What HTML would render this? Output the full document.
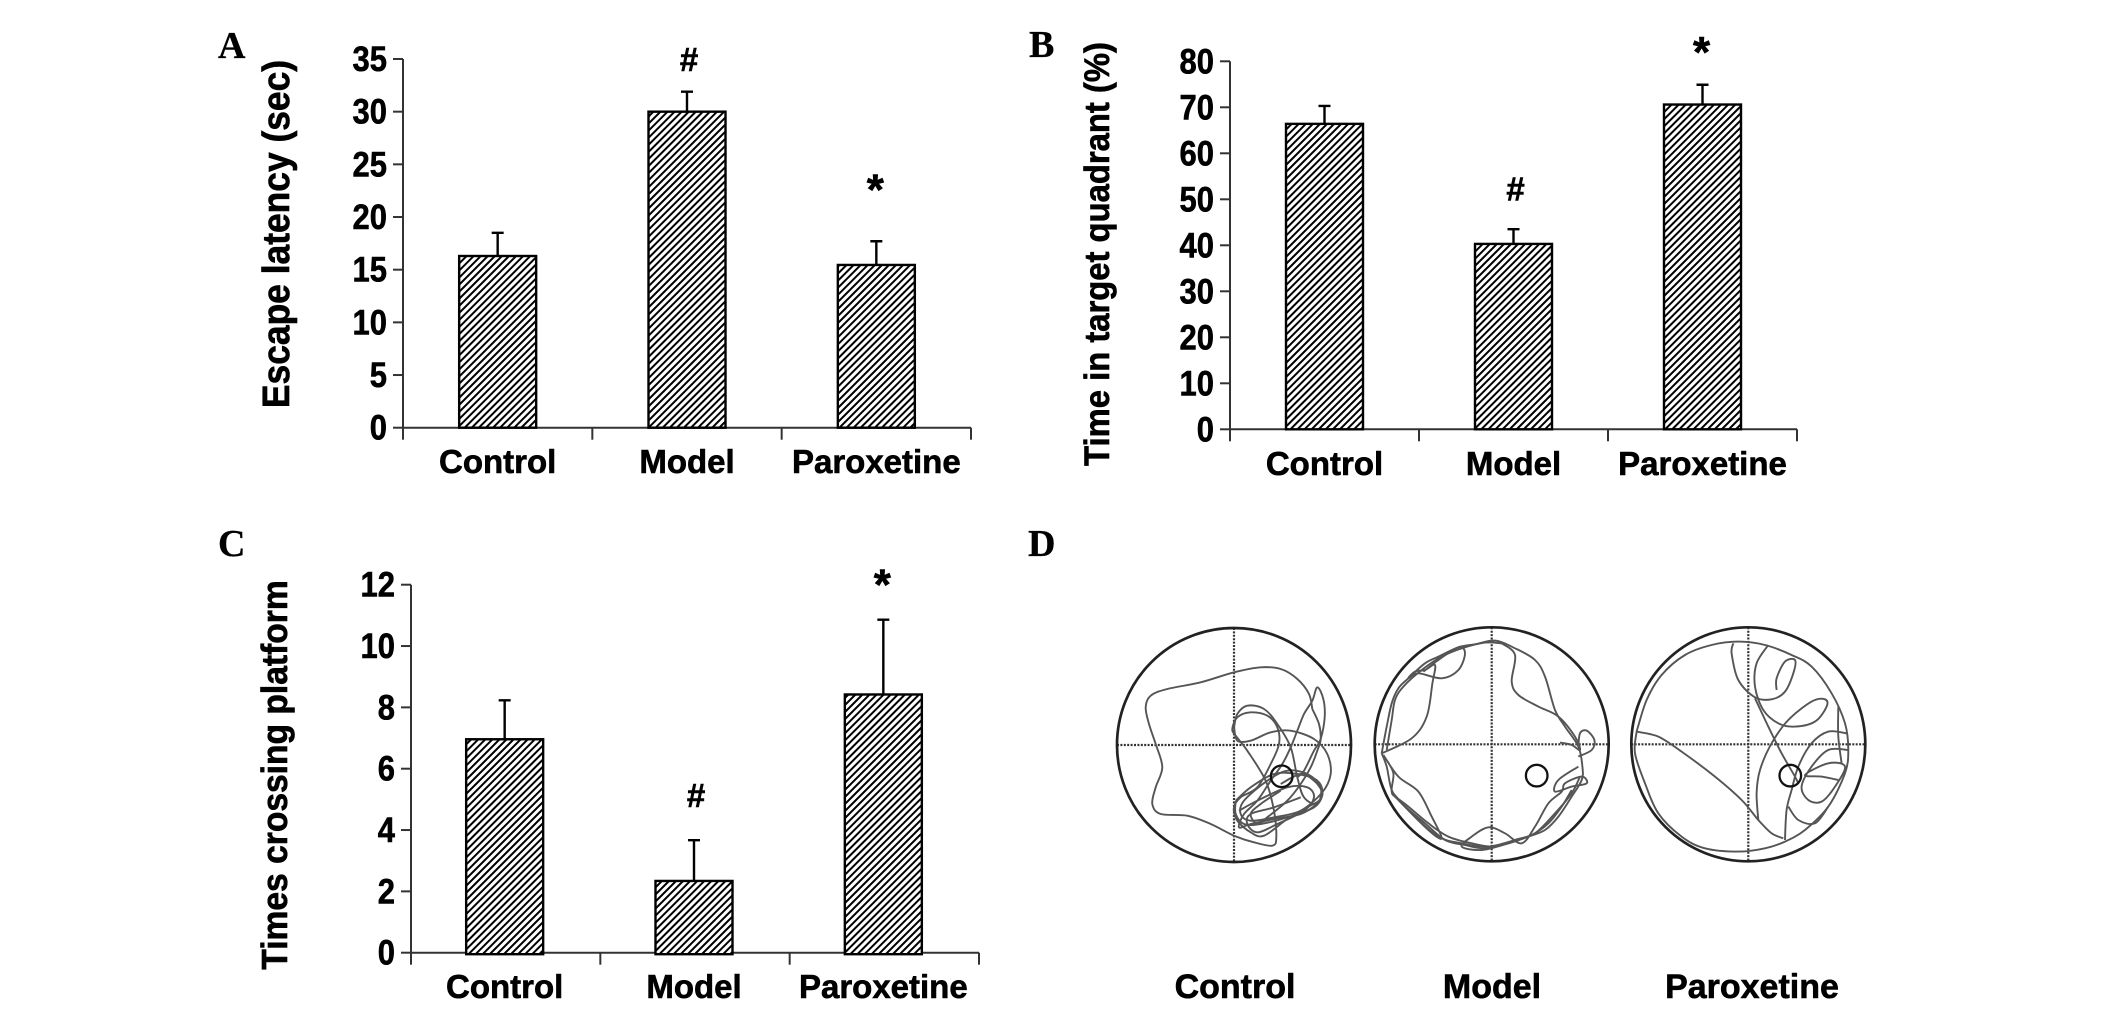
<!DOCTYPE html>
<html lang="en">
<head>
<meta charset="utf-8">
<title>Behavioural results: escape latency, target quadrant time, platform crossings and swim paths</title>
<style>
html,body{margin:0;padding:0;background:#fff;width:2126px;height:1009px;overflow:hidden}
svg{display:block}
text{font-family:"Liberation Sans",Arial,sans-serif;font-weight:bold;fill:#000;stroke:#000;stroke-width:.6px}
.letter{font-family:"Liberation Serif","Times New Roman",serif;font-size:38px;stroke-width:.3px}
</style>
</head>
<body>
<svg id="figure" xmlns="http://www.w3.org/2000/svg" width="2126" height="1009" viewBox="0 0 2126 1009">
<defs>
<pattern id="hatch" width="5" height="5" patternUnits="userSpaceOnUse" patternTransform="rotate(45)">
<rect width="5" height="5" fill="#fff"/>
<rect width="2" height="5" fill="#000"/>
</pattern>
</defs>
<text class="letter" x="218" y="58">A</text>
<text class="letter" x="1029" y="57">B</text>
<text class="letter" x="218" y="556">C</text>
<text class="letter" x="1028" y="556">D</text>
</svg>
<script>
// Shared categories
const categories = ['Control', 'Model', 'Paroxetine'];

// Panel A
const escapeTicks = [0, 5, 10, 15, 20, 25, 30, 35];
const escapeValues = [16.3, 30.0, 15.45];
const escapeErrorTops = [18.5, 31.9, 17.7];
const escapeMarks = ['', '#', '*'];
const escapeMarkLevels = [0, 35.0, 23.2];

// Panel B
const quadrantTicks = [0, 10, 20, 30, 40, 50, 60, 70, 80];
const quadrantValues = [66.4, 40.3, 70.6];
const quadrantErrorTops = [70.3, 43.5, 74.9];
const quadrantMarks = ['', '#', '*'];
const quadrantMarkLevels = [0, 52.3, 83.3];

// Panel C
const crossingTicks = [0, 2, 4, 6, 8, 10, 12];
const crossingValues = [6.96, 2.34, 8.42];
const crossingErrorTops = [8.23, 3.67, 10.86];
const crossingMarks = ['', '#', '*'];
const crossingMarkLevels = [0, 5.14, 12.2];

// Panel D: swim paths, read in pool units (0-840 square around each pool)
const controlPath = [
 [635,295,625,250,590,205,540,175,480,170,400,185,300,215,200,235,150,255,135,290,145,340,165,400,185,470,165,530,155,580,180,610,260,615,330,640,400,675,460,695,515,705,527,680,520,600,495,510,440,420,405,375,395,355,410,320,450,305,500,315,530,350,535,400,510,460,470,530,420,560,400,590,410,630,450,665,490,675,560,625,620,590,655,570,665,545,640,510,600,490,540,520],
 [400,350,410,390,450,390,510,365,570,360,640,385,680,430,690,490,665,545,600,600,520,620,450,630,420,610,430,570,500,510,560,480,620,490,660,530,650,580,610,560,590,500,570,410,530,340,490,295,440,285,410,310,400,350],
 [590,500,610,480,640,420,660,385,672,320,668,265,650,230,635,270,610,310,590,360,570,410,545,460,510,510,470,570,430,610,415,650,450,640,520,625,600,610,650,580],
 [635,295,655,340,660,385,650,420,630,470,600,520,560,570,500,620,470,640,450,610,480,580,540,540],
 [405,570,450,530,520,490,590,490,650,510,665,550,640,590,560,620,480,640,430,640,405,610,405,570],
 [415,600,470,570,560,530,620,530,640,560,610,600,530,640,470,665,440,640,450,610,520,590,600,560]
];
const modelPath = [
 [70,430,85,350,100,280,120,235,150,205,200,160,240,140,300,112,350,103,410,92,470,115,530,150,560,200,590,300,620,350,660,410,672,470,670,510,640,560,600,620,560,660,510,680,450,700,380,715,320,705,260,690,200,640,130,580,100,540,85,470,70,430],
 [70,430,160,385,205,320,222,220,230,165,200,180,170,185,150,205,180,190,250,205,300,180,320,130,300,112,240,150,195,185],
 [430,100,470,135,460,215,480,255,540,290,600,320,650,380,665,420,640,405,605,398],
 [660,440,700,420,708,390,685,362,665,370,660,410],
 [660,470,600,510,590,545,640,530,685,520,670,500,620,520,610,545,570,580,530,650,490,700,440,670,390,652,340,680,310,710,370,720,450,700,510,680],
 [75,435,120,500,180,545,220,620,250,685,210,660,120,570,100,545,105,490,85,450],
 [640,540,610,590,570,640,520,675,470,690,410,710,340,700,270,680,210,640,150,590,110,560],
 [85,420,100,330,110,270,135,230,190,180,250,140,310,115,380,98,430,100],
 [100,545,160,610,240,680,310,700,390,710,470,690,530,670,590,610,640,550,665,500]
];
const paroxetinePath = [
 [65,365,60,430,90,520,130,610,200,680,270,715,370,725,450,715,510,695,570,660,640,590,690,490,700,420,690,340,650,250,590,170,530,135,450,105,370,95,290,105,210,135,140,195,95,270,65,365],
 [65,365,130,380,200,425,300,500,380,570,430,630,470,670,505,685],
 [355,100,350,130,370,210,420,262,470,268,510,245,535,190,540,150,510,155,485,205,485,240],
 [460,105,425,160,420,230,445,300,490,340,540,350,600,335,635,290,630,268,590,275,520,330,470,400,435,480,425,550,430,630],
 [420,265,460,350,500,430,540,500,550,520],
 [695,370,640,365,590,400,550,470,530,540,515,600,510,690],
 [520,590,550,630,600,640,640,590],
 [700,420,640,420,590,470,560,530,580,570,620,575,660,530,690,470,640,460,570,495,620,500,670,510],
 [670,290,670,380,680,460]
];
const pools = [
 {name:'control', label:'Control', cx:1234, cy:745, labelX:1235, platform:[543,497], paths:controlPath},
 {name:'model', label:'Model', cx:1491.7, cy:744.3, labelX:1492, platform:[535,497], paths:modelPath},
 {name:'paroxetine', label:'Paroxetine', cx:1748.3, cy:744.3, labelX:1752, platform:[526,497], paths:paroxetinePath}
];

const NS = 'http://www.w3.org/2000/svg';
const figure = document.getElementById('figure');

function add(parent, tag, attrs, content) {
  const el = document.createElementNS(NS, tag);
  for (const k in attrs) el.setAttribute(k, attrs[k]);
  if (content !== undefined) el.textContent = content;
  parent.appendChild(el);
  return el;
}

function drawChart(cfg) {
  const g = add(figure, 'g', {});
  
  
  const maxTick = cfg.ticks[cfg.ticks.length - 1];
  const yScale = v => cfg.y0 - (v / maxTick) * (cfg.y0 - cfg.yTop);
  const band = (cfg.x1 - cfg.x0) / categories.length;
  const xScale = i => cfg.x0 + band * (i + 0.5) + cfg.barShift;

  const axis = add(g, 'path', {fill:'none', stroke:'#333', 'stroke-width':2,
    d:'M' + cfg.x0 + ' ' + yScale(maxTick) + 'V' + cfg.y0 + 'H' + cfg.x1});
  
  

  cfg.ticks.forEach(t => {
    const y = yScale(t);
    const tick = add(g, 'line', {x1:cfg.x0 - 10, x2:cfg.x0, y1:y, y2:y, stroke:'#333', 'stroke-width':2});
    
    
    const lab = add(g, 'text', {'text-anchor':'end', 'font-size':35,
      transform:'translate(' + (cfg.x0 - 16) + ',' + (y + 12) + ') scale(.885,1)'}, t);
    
    
  });

  for (let i = 0; i <= categories.length; i++) {
    const x = cfg.x0 + band * i;
    const tick = add(g, 'line', {x1:x, x2:x, y1:cfg.y0, y2:cfg.y0 + 12, stroke:'#333', 'stroke-width':2});
    
    
  }

  categories.forEach((c, i) => {
    const cx = xScale(i);
    const top = yScale(cfg.values[i]);
    const errTop = yScale(cfg.errors[i]);

    const err = add(g, 'path', {fill:'none', stroke:'#000', 'stroke-width':2.4,
      d:'M' + cx + ' ' + top + 'V' + errTop + 'M' + (cx - 6) + ' ' + errTop + 'H' + (cx + 6)});
    
    

    const bar = add(g, 'rect', {x:cx - 38.5, y:top, width:77, height:cfg.y0 + cfg.barOver - top,
      fill:'url(#hatch)', stroke:'#000', 'stroke-width':2.4});
    
    

    const lab = add(g, 'text', {x:xScale(i) + cfg.labelShift, y:cfg.labelY, 'text-anchor':'middle', 'font-size':33}, c);
    
    

    if (cfg.marks[i]) {
      const isHash = cfg.marks[i] === '#';
      const my = yScale(cfg.markLevels[i]) + (isHash ? 12 : 21);
      const mark = add(g, 'text', {x:cx + (isHash ? 2 : -1), y:my, 'text-anchor':'middle', 'font-size':isHash ? 33 : 44}, cfg.marks[i]);
      
      
    }
  });

  const title = add(g, 'text', {'text-anchor':'middle', 'font-size':cfg.titleSize,
    transform:'translate(' + cfg.titleX + ',' + cfg.titleY + ') rotate(-90) scale(1,1.08)'}, cfg.title);
  
  
}

drawChart({name:'escape-latency', title:'Escape latency (sec)', titleSize:35.4, titleX:289, titleY:234,
  ticks:escapeTicks, values:escapeValues, errors:escapeErrorTops, marks:escapeMarks, markLevels:escapeMarkLevels,
  x0:403, x1:971, y0:427.7, yTop:59, barShift:0, barOver:0, labelShift:0, labelY:473});
drawChart({name:'target-quadrant', title:'Time in target quadrant (%)', titleSize:32.8, titleX:1109, titleY:254,
  ticks:quadrantTicks, values:quadrantValues, errors:quadrantErrorTops, marks:quadrantMarks, markLevels:quadrantMarkLevels,
  x0:1230, x1:1797, y0:429.3, yTop:61.3, barShift:0, barOver:0, labelShift:0, labelY:475});
drawChart({name:'platform-crossings', title:'Times crossing platform', titleSize:33.6, titleX:287, titleY:775,
  ticks:crossingTicks, values:crossingValues, errors:crossingErrorTops, marks:crossingMarks, markLevels:crossingMarkLevels,
  x0:411, x1:979, y0:952.7, yTop:584.7, barShift:-1, barOver:1.5, labelShift:0, labelY:998});

function smooth(flat, sx, sy) {
  const p = [];
  for (let i = 0; i < flat.length; i += 2) p.push([sx(flat[i]), sy(flat[i + 1])]);
  let d = 'M' + p[0][0].toFixed(1) + ' ' + p[0][1].toFixed(1);
  for (let i = 0; i < p.length - 1; i++) {
    const a = p[Math.max(i - 1, 0)], b = p[i], c = p[i + 1], e = p[Math.min(i + 2, p.length - 1)];
    d += 'C' + (b[0] + (c[0] - a[0]) / 6).toFixed(1) + ' ' + (b[1] + (c[1] - a[1]) / 6).toFixed(1) + ' ' +
         (c[0] - (e[0] - b[0]) / 6).toFixed(1) + ' ' + (c[1] - (e[1] - b[1]) / 6).toFixed(1) + ' ' +
         c[0].toFixed(1) + ' ' + c[1].toFixed(1);
  }
  return d;
}

pools.forEach(pool => {
  const g = add(figure, 'g', {});
  
  
  const R = 117;
  const sx = u => pool.cx + (u - 400) / 3;
  const sy = u => pool.cy + (u - 403) / 3;

  const cross = add(g, 'path', {fill:'none', stroke:'#333', 'stroke-width':2.2, 'stroke-dasharray':'2 1.4',
    d:'M' + (pool.cx - R) + ' ' + pool.cy + 'H' + (pool.cx + R) + 'M' + pool.cx + ' ' + (pool.cy - R) + 'V' + (pool.cy + R)});
  
  

  pool.paths.forEach(flat => {
    const track = add(g, 'path', {fill:'none', stroke:'#555', 'stroke-width':1.9, 'stroke-linejoin':'round', d:smooth(flat, sx, sy)});
    
    
  });

  const ring = add(g, 'circle', {cx:pool.cx, cy:pool.cy, r:R, fill:'none', stroke:'#222', 'stroke-width':2.7});
  
  

  const plat = add(g, 'circle', {cx:sx(pool.platform[0]), cy:sy(pool.platform[1]), r:10.8, fill:'none', stroke:'#111', 'stroke-width':2.3});
  
  

  const lab = add(g, 'text', {x:pool.labelX, y:998, 'text-anchor':'middle', 'font-size':34}, pool.label);
  
  
});
</script>
</body>
</html>
